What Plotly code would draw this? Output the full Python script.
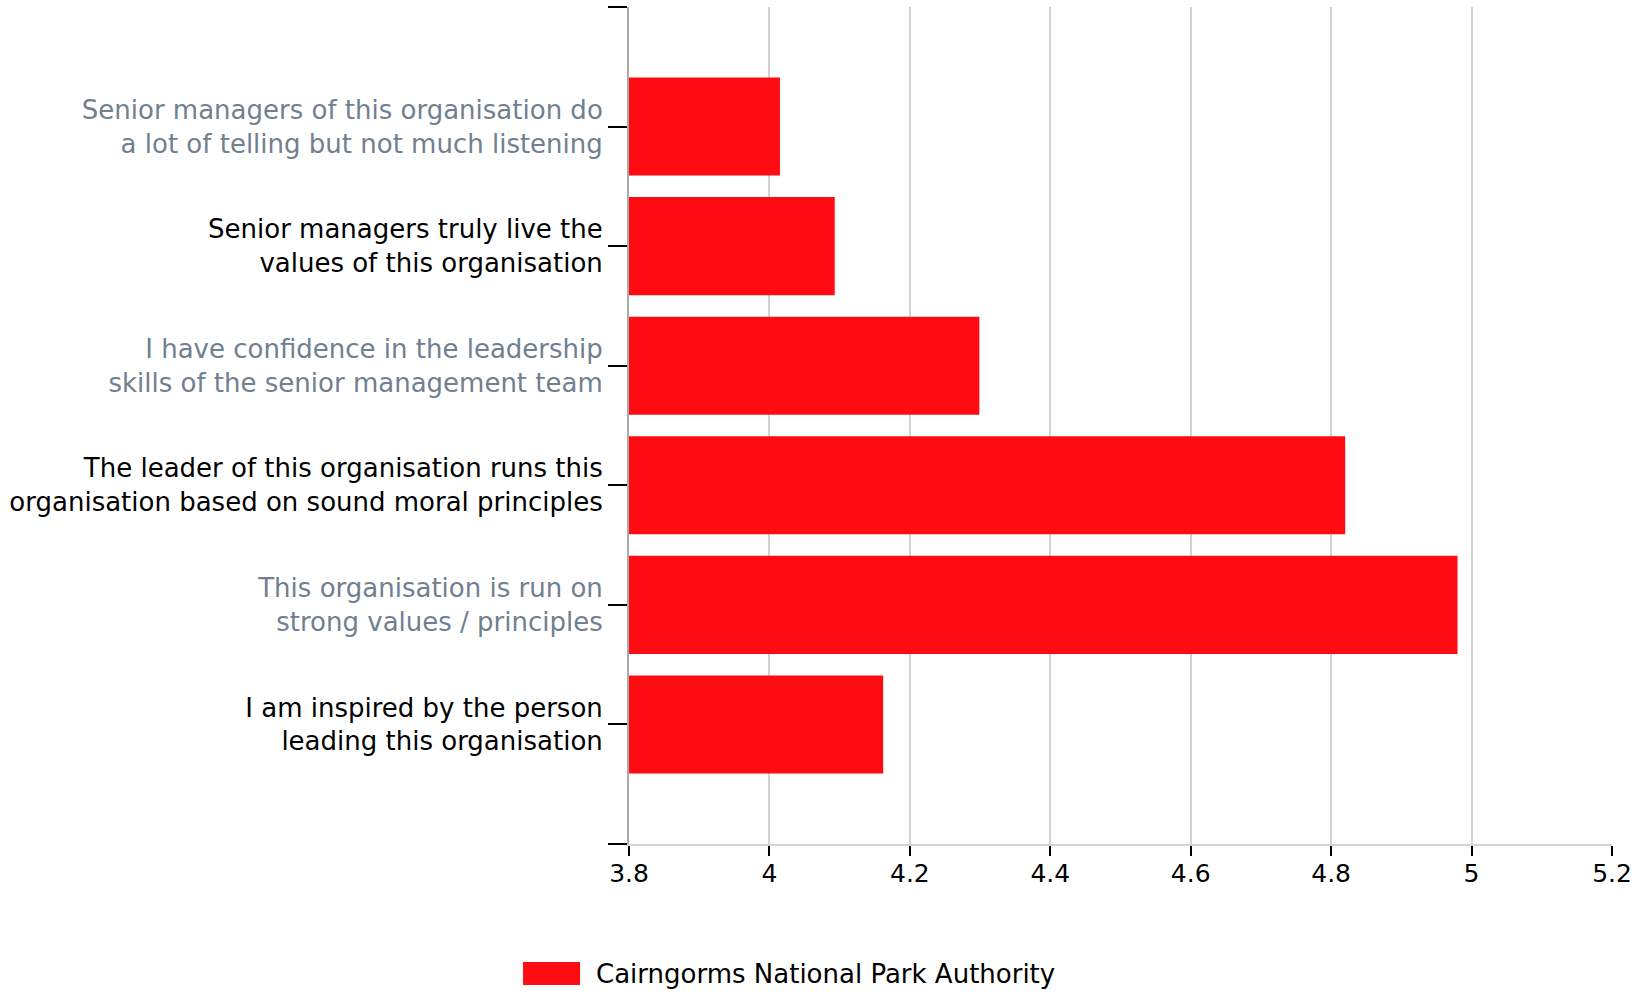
import plotly.graph_objects as go

categories = [
    "Senior managers of this organisation do<br>a lot of telling but not much listening",
    "Senior managers truly live the<br>values of this organisation",
    "I have confidence in the leadership<br>skills of the senior management team",
    "The leader of this organisation runs this<br>organisation based on sound moral principles",
    "This organisation is run on<br>strong values / principles",
    "I am inspired by the person<br>leading this organisation",
]
values = [4.015, 4.093, 4.299, 4.82, 4.98, 4.162]
label_colors = ["#708090", "#000000", "#708090", "#000000", "#708090", "#000000"]
series_name = "Cairngorms National Park Authority"
x_ticks = [3.8, 4.0, 4.2, 4.4, 4.6, 4.8, 5.0, 5.2]
x_tick_labels = ["3.8", "4", "4.2", "4.4", "4.6", "4.8", "5", "5.2"]

bar_color = "#FF0C12"
font_family = "DejaVu Sans, Liberation Sans, Arial, sans-serif"

n = len(categories)
ypos = list(range(n))

fig = go.Figure()
fig.add_trace(go.Bar(
    x=values,
    y=ypos,
    orientation="h",
    marker=dict(color=bar_color, line=dict(width=0)),
    name=series_name,
    showlegend=False,
    hoverinfo="x+text",
    text=[c.replace("<br>", " ") for c in categories],
    textposition="none",
))

tickvals = [-1] + ypos + [n]
ticktext = [""] + [f'<span style="color:{c}">{t}</span>' for t, c in zip(categories, label_colors)] + [""]

fig.update_layout(
    width=1633,
    height=997,
    autosize=False,
    margin=dict(l=629, r=21, t=7, b=153, pad=0),
    paper_bgcolor="white",
    plot_bgcolor="white",
    bargap=0.18,
    font=dict(family=font_family, size=26, color="#000000"),
    xaxis=dict(
        range=[3.8, 5.2],
        automargin=False,
        tickmode="array",
        tickvals=x_ticks,
        ticktext=x_tick_labels,
        showgrid=True,
        gridcolor="#d3d3d3",
        gridwidth=2,
        showline=True,
        linecolor="#d3d3d3",
        linewidth=2,
        ticks="outside",
        ticklen=10,
        tickwidth=2,
        tickcolor="#000000",
        zeroline=False,
        ticklabelstandoff=-4,
        tickfont=dict(size=25, color="#000000"),
    ),
    yaxis=dict(
        range=[n, -1],
        automargin=False,
        tickmode="array",
        tickvals=tickvals,
        ticktext=ticktext,
        showgrid=False,
        zeroline=False,
        showline=True,
        linecolor="#aaaaaa",
        linewidth=2,
        ticks="outside",
        ticklen=19,
        tickwidth=2,
        tickcolor="#000000",
        tickfont=dict(size=26),
    ),
)

# Legend (drawn manually to match the wide swatch)
fig.add_shape(
    type="rect", xref="paper", yref="paper",
    x0=-0.1078, x1=-0.0498, y0=-0.1685, y1=-0.141,
    fillcolor=bar_color, line=dict(width=0),
)
fig.add_annotation(
    xref="paper", yref="paper", x=-0.0356, y=-0.1553,
    xanchor="left", yanchor="middle", showarrow=False,
    text=series_name, font=dict(size=26, color="#000000"),
)

fig.write_html(
    "out.html",
    config={"responsive": False, "displayModeBar": False},
    post_script=(
        "document.body.style.margin='0';"
        "document.documentElement.style.overflow='hidden';"
    ),
)
